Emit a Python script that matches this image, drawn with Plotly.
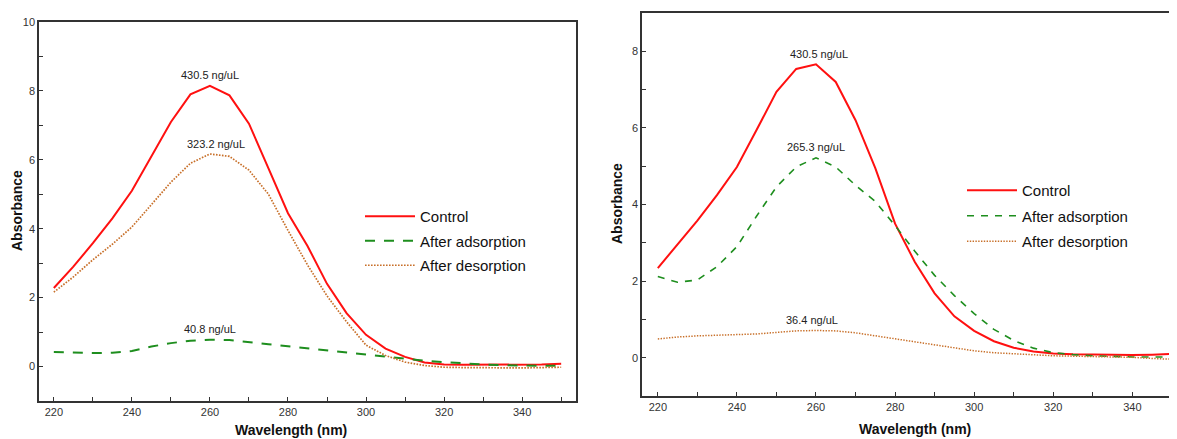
import plotly.graph_objects as go

# ---------------- data ----------------
wavelength = [220, 225, 230, 235, 240, 245, 250, 255, 260, 265, 270, 275, 280,
              285, 290, 295, 300, 305, 310, 315, 320, 325, 330, 335, 340, 345, 350]

# left panel
left_control = [2.28, 2.90, 3.58, 4.30, 5.10, 6.10, 7.10, 7.90, 8.15, 7.87, 7.05, 5.75, 4.45,
                3.50, 2.40, 1.55, 0.92, 0.52, 0.28, 0.12, 0.06, 0.05, 0.05, 0.05, 0.05, 0.06, 0.08]
left_adsorption = [0.42, 0.40, 0.39, 0.40, 0.45, 0.58, 0.68, 0.75, 0.78, 0.77, 0.72, 0.65, 0.59,
                   0.53, 0.47, 0.40, 0.33, 0.27, 0.22, 0.17, 0.13, 0.09, 0.06, 0.04, 0.02, 0.02, 0.02]
left_desorption = [2.16, 2.60, 3.10, 3.55, 4.05, 4.70, 5.35, 5.90, 6.17, 6.10, 5.70, 5.00, 3.95,
                   2.95, 2.05, 1.30, 0.62, 0.32, 0.13, 0.03, -0.02, -0.03, -0.04, -0.04, -0.04, -0.03, -0.02]

# right panel
right_control = [2.34, 2.95, 3.58, 4.25, 4.98, 5.95, 6.94, 7.54, 7.66, 7.20, 6.20, 4.95, 3.50,
                 2.50, 1.68, 1.08, 0.70, 0.43, 0.26, 0.16, 0.11, 0.09, 0.08, 0.07, 0.07, 0.08, 0.10]
right_adsorption = [2.12, 1.97, 2.03, 2.38, 2.90, 3.70, 4.46, 4.98, 5.22, 4.98, 4.50, 4.08, 3.45,
                    2.78, 2.15, 1.62, 1.15, 0.74, 0.45, 0.25, 0.13, 0.08, 0.05, 0.03, 0.02, 0.02, 0.02]
right_desorption = [0.49, 0.54, 0.57, 0.59, 0.60, 0.62, 0.66, 0.70, 0.71, 0.70, 0.65, 0.57, 0.50,
                    0.42, 0.34, 0.26, 0.18, 0.13, 0.10, 0.07, 0.05, 0.04, 0.03, 0.02, 0.01, -0.02, -0.04]

series_names = ["Control", "After adsorption", "After desorption"]

# peak labels: (wavelength, absorbance, text)
left_labels = [(260, 8.47, "430.5 ng/uL"), (261.5, 6.45, "323.2 ng/uL"), (260, 1.08, "40.8 ng/uL")]
right_labels = [(260.8, 7.94, "430.5 ng/uL"), (260, 5.5, "265.3 ng/uL"), (259, 0.99, "36.4 ng/uL")]

x_title = "Wavelength (nm)"
y_title = "Absorbance"

# ---------------- styling ----------------
OFF = 8                      # page body margin of the html page
W, H = 1177 - OFF, 439 - OFF
FONT = "Arial, 'Liberation Sans', sans-serif"
RED = "#FF1010"
GREEN = "#1E8E1E"
BROWN = "#C8702A"
AXIS = "#333333"

fig = go.Figure()

styles_left = [dict(color=RED, width=2, dash="solid"),
               dict(color=GREEN, width=2, dash="10px,9px"),
               dict(color=BROWN, width=1.7, dash="1.6px,1.4px")]
styles_right = [dict(color=RED, width=2, dash="solid"),
                dict(color=GREEN, width=1.6, dash="7px,7px"),
                dict(color=BROWN, width=1.5, dash="1.4px,1.4px")]

for i, (name, ys, st) in enumerate(zip(series_names, [left_control, left_adsorption, left_desorption], styles_left)):
    fig.add_trace(go.Scatter(x=wavelength, y=ys, mode="lines", name=name, line=st,
                             legendgroup=f"L{i}", xaxis="x", yaxis="y", legend="legend"))
for i, (name, ys, st) in enumerate(zip(series_names, [right_control, right_adsorption, right_desorption], styles_right)):
    fig.add_trace(go.Scatter(x=wavelength, y=ys, mode="lines", name=name, line=st,
                             legendgroup=f"R{i}", xaxis="x2", yaxis="y2", legend="legend2"))


def px_x(p):
    return (p - OFF) / W


def px_y(p):
    return 1 - (p - OFF) / H


axis_common = dict(showgrid=False, zeroline=False, showline=True, linecolor=AXIS, linewidth=1.5,
                   ticks="inside", ticklen=4, tickwidth=1.2, tickcolor=AXIS, automargin=False,
                   tickfont=dict(family=FONT, size=11, color="#333"))

fig.update_layout(
    width=W, height=H,
    margin=dict(l=0, r=0, t=0, b=0),
    paper_bgcolor="white", plot_bgcolor="white",
    font=dict(family=FONT, color="#222"),
    xaxis=dict(domain=[px_x(39), px_x(576)], range=[216.2, 353.8], dtick=20, tick0=220,
               minor=dict(dtick=10, tick0=220, ticks="inside", ticklen=4, tickcolor=AXIS),
               mirror=True, anchor="y", **axis_common),
    yaxis=dict(domain=[px_y(401), px_y(22)], range=[-1, 10], dtick=2, tick0=0,
               minor=dict(dtick=1, tick0=0, ticks="inside", ticklen=4, tickcolor=AXIS),
               mirror=True, anchor="x", **axis_common),
    xaxis2=dict(domain=[px_x(642), 1.0], range=[216.0, 351.3], dtick=20, tick0=220,
                minor=dict(dtick=10, tick0=220, ticks="inside", ticklen=4, tickcolor=AXIS),
                mirror=True, anchor="y2", **axis_common),
    yaxis2=dict(domain=[px_y(396), px_y(13)], range=[-1, 9], dtick=2, tick0=0,
                minor=dict(dtick=1, tick0=0, ticks="inside", ticklen=4, tickcolor=AXIS),
                mirror=False, anchor="x2", **axis_common),
    legend=dict(x=px_x(360), y=px_y(200), xanchor="left", yanchor="top",
                bgcolor="rgba(0,0,0,0)", itemwidth=50, traceorder="grouped", tracegroupgap=2,
                font=dict(family=FONT, size=15, color="#111")),
    legend2=dict(x=px_x(962), y=px_y(174), xanchor="left", yanchor="top",
                 bgcolor="rgba(0,0,0,0)", itemwidth=50, traceorder="grouped", tracegroupgap=3,
                 font=dict(family=FONT, size=15, color="#111")),
)

annotations = []
for xv, yv, t in left_labels:
    annotations.append(dict(x=xv, y=yv, xref="x", yref="y", text=t, showarrow=False,
                            xanchor="center", yanchor="middle",
                            font=dict(family=FONT, size=11, color="#222")))
for xv, yv, t in right_labels:
    annotations.append(dict(x=xv, y=yv, xref="x2", yref="y2", text=t, showarrow=False,
                            xanchor="center", yanchor="middle",
                            font=dict(family=FONT, size=11, color="#222")))

title_font = dict(family=FONT, size=14, color="#111", weight="bold")
annotations += [
    dict(x=px_x(17), y=px_y(211), xref="paper", yref="paper", text=y_title, textangle=-90,
         xanchor="center", yanchor="middle", showarrow=False, font=title_font),
    dict(x=px_x(617), y=px_y(204), xref="paper", yref="paper", text=y_title, textangle=-90,
         xanchor="center", yanchor="middle", showarrow=False, font=title_font),
    dict(x=px_x(291), y=px_y(430), xref="paper", yref="paper", text=x_title,
         xanchor="center", yanchor="middle", showarrow=False, font=title_font),
    dict(x=px_x(915), y=px_y(429), xref="paper", yref="paper", text=x_title,
         xanchor="center", yanchor="middle", showarrow=False, font=title_font),
]
fig.update_layout(annotations=annotations)

fig.write_html("out.html")
